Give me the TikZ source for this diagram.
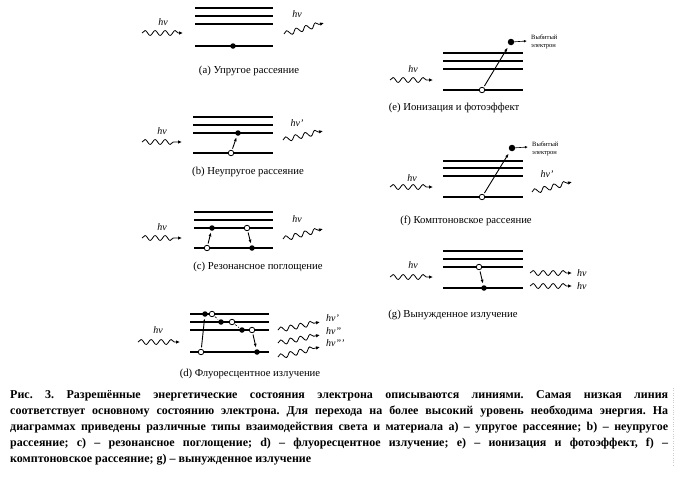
\documentclass[tikz,border=0pt]{standalone}
\usepackage{fontspec}
\setmainfont{Liberation Serif}
\usetikzlibrary{arrows.meta,decorations.pathmorphing}

\tikzset{
  lvl/.style={line width=2pt},
  fdot/.style={circle, fill, inner sep=0pt, minimum size=5.5pt},
  odot/.style={circle, draw, fill=white, line width=0.8pt, inner sep=0pt, minimum size=5.5pt},
  edot/.style={circle, fill, inner sep=0pt, minimum size=6.5pt},
  jump/.style={-{Latex[length=4pt,width=3pt]}, line width=0.9pt, shorten <=1.5pt, shorten >=1.5pt},
  hop/.style={line width=0.6pt, dash pattern=on 2pt off 1.5pt, shorten <=1pt, shorten >=1pt},
  photon/.style={decorate, decoration={snake, segment length=10pt, amplitude=2.5pt, post length=4pt},
    -{Latex[length=4pt,width=3.5pt]}, line width=0.8pt},
  hv/.style={font=\itshape\fontsize{10}{11}\selectfont, inner sep=0pt},
  pname/.style={font=\fontsize{10.7}{12}\selectfont, inner sep=0pt},
  kicked/.style={font=\fontsize{6.5}{7.5}\selectfont, align=left, anchor=west, inner sep=0pt}
}

\begin{document}
\begin{tikzpicture}[x=1pt, y=-1pt]
\useasboundingbox (0,0) rectangle (676,482);

% (a) elastic
\foreach \y in {8,16,24,46} \draw[lvl] (195,\y) -- (273,\y);
\node[fdot] (a1) at (233,46) {};
\coordinate (ai0) at (142,33); \coordinate (ai1) at (183,33);
\coordinate (ao0) at (284,34); \coordinate (ao1) at (324,23);
\draw[photon] (ai0) -- (ai1);
\draw[photon] (ao0) -- (ao1);
\node[hv] (ahv) at (163,22) {hν};
\node[hv] (ahv2) at (297,14) {hν};
\node[pname] (acap) at (249,71) {(a) Упругое рассеяние};

% (b) inelastic
\foreach \y in {117,125,133,153} \draw[lvl] (193,\y) -- (273,\y);
\node[odot] (b1) at (231,153) {};
\node[fdot] (b2) at (238,133) {};
\draw[jump] (b1) -- (b2);
\coordinate (bi0) at (142,142); \coordinate (bi1) at (182,142);
\coordinate (bo0) at (283,140); \coordinate (bo1) at (323,131);
\draw[photon] (bi0) -- (bi1);
\draw[photon] (bo0) -- (bo1);
\node[hv] (bhv) at (162,131) {hν};
\node[hv] (bhv2) at (297,123) {hν'};
\node[pname] (bcap) at (248,172) {(b) Неупругое рассеяние};

% (c) resonant absorption
\foreach \y in {212,220,228,248} \draw[lvl] (194,\y) -- (273,\y);
\node[odot] (c1) at (207,248) {};
\node[fdot] (c2) at (212,228) {};
\node[odot] (c3) at (247,228) {};
\node[fdot] (c4) at (252,248) {};
\draw[jump] (c1) -- (c2);
\draw[jump] (c3) -- (c4);
\coordinate (ci0) at (142,238); \coordinate (ci1) at (182,238);
\coordinate (co0) at (283,239); \coordinate (co1) at (323,229);
\draw[photon] (ci0) -- (ci1);
\draw[photon] (co0) -- (co1);
\node[hv] (chv) at (162,227) {hν};
\node[hv] (chv2) at (297,219) {hν};
\node[pname] (ccap) at (258,267) {(c) Резонансное поглощение};

% (d) fluorescence
\foreach \y in {314,322,330,352} \draw[lvl] (190,\y) -- (269,\y);
\node[odot] (d0) at (201,352) {};
\node[fdot] (d1) at (205,314) {};
\node[odot] (d2) at (212,314) {};
\node[fdot] (d3) at (221,322) {};
\node[odot] (d4) at (232,322) {};
\node[fdot] (d5) at (242,330) {};
\node[odot] (d6) at (252,330) {};
\node[fdot] (d7) at (257,352) {};
\draw[jump] (d0) -- (d1);
\draw[hop] (d2) -- (d3);
\draw[hop] (d4) -- (d5);
\draw[jump] (d6) -- (d7);
\coordinate (di0) at (138,342); \coordinate (di1) at (180,342);
\draw[photon] (di0) -- (di1);
\node[hv] (dhv) at (158,330) {hν};
\foreach \i/\a/\b/\t in {1/330/322/hν', 2/343/335/hν'', 3/357/347/hν'''} {
  \coordinate (do\i a) at (278,\a); \coordinate (do\i b) at (320,\b);
  \draw[photon] (do\i a) -- (do\i b);
  \node[hv, anchor=west] (dhv\i) at (326,\b-4) {\t};
}
\node[pname] (dcap) at (250,374) {(d) Флуоресцентное излучение};

% (e) ionization
\foreach \y in {53,61,69,90} \draw[lvl] (443,\y) -- (523,\y);
\node[odot] (e1) at (482,90) {};
\node[edot] (e2) at (511,42) {};
\coordinate (e3) at (527,41);
\draw[jump, shorten >=3pt] (e1) -- (e2);
\draw[-{Latex[length=3pt,width=2.5pt]}, line width=0.6pt] (e2) -- (e3);
\node[kicked] (etxt) at (531,42) {Выбитый\\электрон};
\coordinate (ei0) at (390,80); \coordinate (ei1) at (433,80);
\draw[photon] (ei0) -- (ei1);
\node[hv] (ehv) at (413,69) {hν};
\node[pname] (ecap) at (454,108) {(e) Ионизация и фотоэффект};

% (f) Compton
\foreach \y in {161,168,176,197} \draw[lvl] (443,\y) -- (523,\y);
\node[odot] (f1) at (482,197) {};
\node[edot] (f2) at (512,148) {};
\coordinate (f3) at (528,147);
\draw[jump, shorten >=3pt] (f1) -- (f2);
\draw[-{Latex[length=3pt,width=2.5pt]}, line width=0.6pt] (f2) -- (f3);
\node[kicked] (ftxt) at (532,149) {Выбитый\\электрон};
\coordinate (fi0) at (390,187); \coordinate (fi1) at (433,187);
\coordinate (fo0) at (532,192); \coordinate (fo1) at (572,182);
\draw[photon] (fi0) -- (fi1);
\draw[photon] (fo0) -- (fo1);
\node[hv] (fhv) at (412,178) {hν};
\node[hv] (fhv2) at (547,174) {hν'};
\node[pname] (fcap) at (466,221) {(f) Комптоновское рассеяние};

% (g) stimulated emission
\foreach \y in {251,259,267,288} \draw[lvl] (443,\y) -- (523,\y);
\node[odot] (g1) at (479,267) {};
\node[fdot] (g2) at (484,288) {};
\draw[jump] (g1) -- (g2);
\coordinate (gi0) at (390,277); \coordinate (gi1) at (433,277);
\draw[photon] (gi0) -- (gi1);
\node[hv] (ghv) at (413,265) {hν};
\foreach \i/\y in {1/273, 2/286} {
  \coordinate (go\i a) at (530,\y); \coordinate (go\i b) at (572,\y);
  \draw[photon] (go\i a) -- (go\i b);
  \node[hv, anchor=west] (ghv\i) at (577,\y) {hν};
}
\node[pname] (gcap) at (453,315) {(g) Вынужденное излучение};

% caption
\node[anchor=north west, inner sep=0pt, text width=658pt, align=justify,
  font=\bfseries\fontsize{12}{16}\selectfont] (fig) at (10,390) {%
  \tolerance=9999 \hyphenpenalty=10000 \frenchspacing
  Рис. 3. Разрешённые энергетические состояния электрона описываются линиями. Самая низкая линия\linebreak
  соответствует основному состоянию электрона. Для перехода на более высокий уровень необходима энергия. На\linebreak
  диаграммах приведены различные типы взаимодействия света и материала a) – упругое рассеяние; b) – неупругое\linebreak
  рассеяние; c) – резонансное поглощение; d) – флуоресцентное излучение; e) – ионизация и фотоэффект, f) –\linebreak
  комптоновское рассеяние; g) – вынужденное излучение};
\draw[gray!40, dotted] (673,388) -- (673,467);
\end{tikzpicture}
\end{document}
